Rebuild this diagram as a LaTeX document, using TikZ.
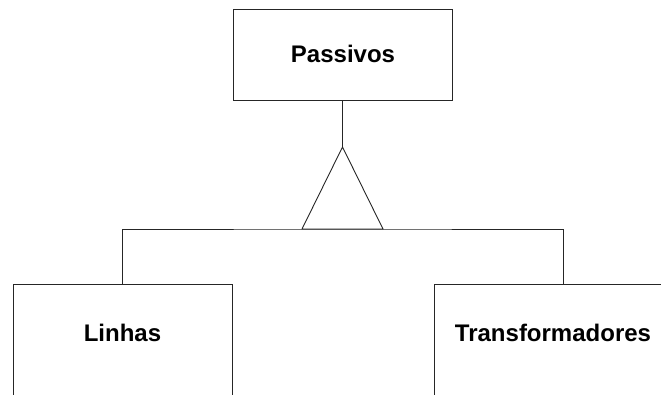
\documentclass[tikz,border=0pt]{standalone}
\usepackage{fontspec}
\setmainfont{Liberation Sans}
\begin{document}
\begin{tikzpicture}[x=1pt,y=-1pt,
  box/.style={draw=black!85, line width=0.9pt, rectangle, inner sep=0pt},
  lbl/.style={font=\fontsize{24}{28}\selectfont\bfseries, inner sep=0pt, text=black},
  conn/.style={draw=black!85, line width=0.9pt}]
\useasboundingbox (0,0) rectangle (661,394);
\clip (0,0) rectangle (661,394);
\node[box, minimum width=219pt, minimum height=91pt] (pass) at (342.5,54.5) {};
\node[lbl] (passtext) at (343,54) {Passivos};
\node[box, minimum width=219pt, minimum height=111pt, anchor=north] (linhas) at (122.5,283.5) {};
\node[lbl] (linhastext) at (122.5,333) {Linhas};
\node[box, minimum width=258pt, minimum height=111pt, anchor=north] (trans) at (563,283.5) {};
\node[lbl] (transtext) at (553,333) {Transformadores};
\coordinate (apex) at (342.5,147);
\coordinate (bl) at (302,229);
\coordinate (br) at (383,229);
\coordinate (hub) at (342.5,229);
\draw[conn] (pass.south) -- (apex);
\draw[conn, line join=miter] (apex) -- (bl) -- (br) -- cycle;
\draw[conn] (linhas.north) |- (hub) -| (trans.north);
\end{tikzpicture}
\end{document}
